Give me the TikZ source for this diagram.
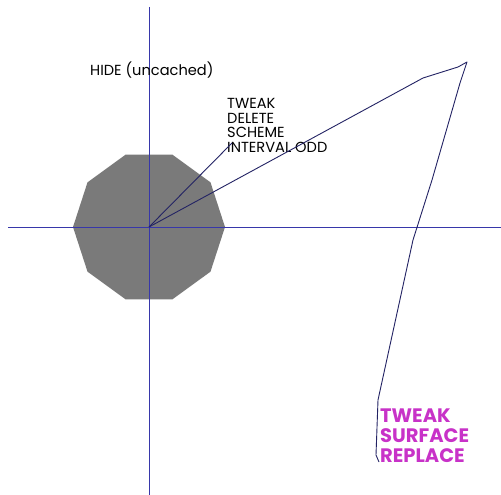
\documentclass[tikz,border=0pt]{standalone}
\usepackage{fontspec}
\setmainfont{Poppins}
\usetikzlibrary{shapes.geometric}
\definecolor{axisblue}{RGB}{55,55,170}
\definecolor{pathnavy}{RGB}{35,35,100}
\definecolor{polygray}{RGB}{122,122,122}
\definecolor{magentatext}{RGB}{200,50,200}
\tikzset{
  axis/.style={draw=axisblue, line width=1pt},
  pathline/.style={draw=pathnavy, line width=0.9pt, line join=round},
  labeltext/.style={inner sep=0pt, anchor=base west, align=left, font=\fontsize{14.6}{14.5}\selectfont, text=black},
  magtext/.style={inner sep=0pt, anchor=base west, align=left, font=\fontsize{19.5}{20}\selectfont\bfseries, text=magentatext},
}
\begin{document}
\begin{tikzpicture}[x=1pt,y=-1pt]
\useasboundingbox (0,0) rectangle (501,495);
\fill[white] (0,0) rectangle (501,495);
\coordinate (c) at (149,227);
\node[regular polygon, regular polygon sides=10, minimum size=152pt, inner sep=0pt, outer sep=0pt, fill=polygray] (poly) at (c) {};
\coordinate (vtop) at (149,7);
\coordinate (vbot) at (149,495);
\coordinate (hleft) at (8,227);
\coordinate (hright) at (501,227);
\draw[axis] (vtop) -- (vbot);
\draw[axis] (hleft) -- (hright);
\node[labeltext] (hide) at (90,76) {HIDE (uncached)};
\node[labeltext] (stack) at (227,152) {TWEAK\\DELETE\\SCHEME\\INTERVAL ODD};
\node[magtext] (mag) at (380,462) {TWEAK\\SURFACE\\REPLACE};
\coordinate (tip) at (232,143);
\draw[pathline] (c) -- (tip);
\coordinate (p1) at (423,78);
\coordinate (p2) at (458,67);
\coordinate (top) at (467,62);
\coordinate (p3) at (460,83);
\coordinate (p4) at (432,180);
\coordinate (p5) at (413,240);
\coordinate (p6) at (378,400);
\coordinate (p7) at (376,455);
\coordinate (endp) at (379,462);
\draw[pathline] (c) -- (p1) -- (p2) -- (top) -- (p3) -- (p4) -- (p5) -- (p6) -- (p7) -- (endp);
\end{tikzpicture}
\end{document}
